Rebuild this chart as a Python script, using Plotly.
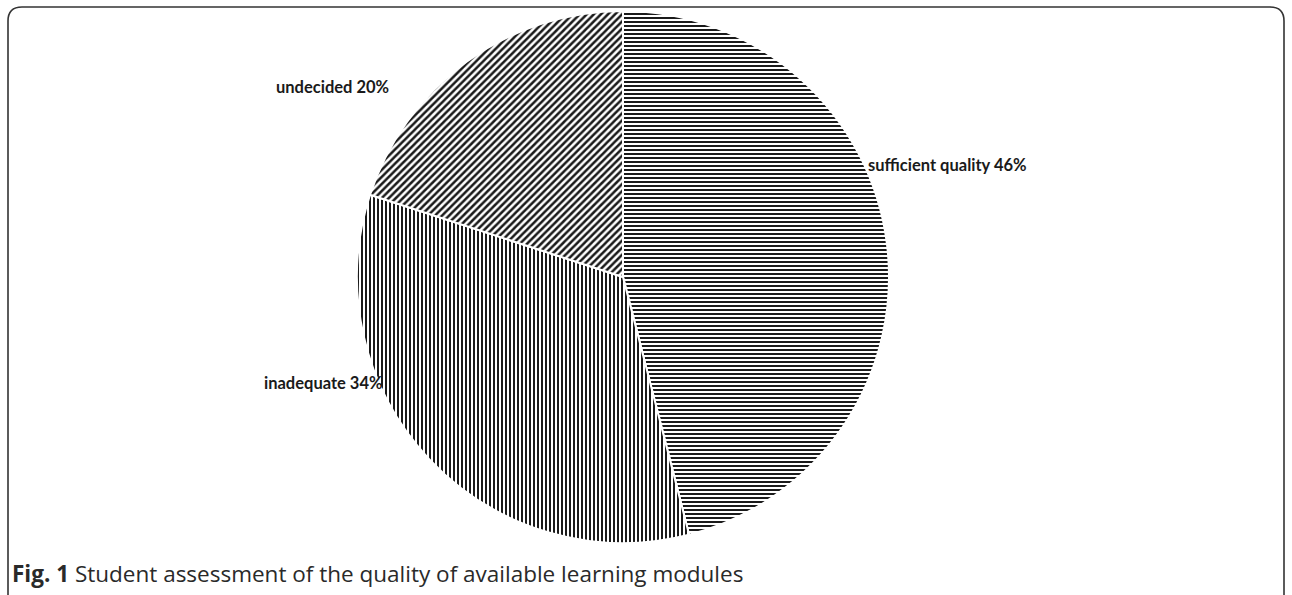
import plotly.graph_objects as go

W, H = 1292, 595

categories = ["sufficient quality", "inadequate", "undecided"]
values = [46, 34, 20]
patterns = ["-", "|", "/"]
caption_bold = "Fig. 1"
caption_text = "Student assessment of the quality of available learning modules"

# label anchor pixel positions (layout only)
label_pos = {
    "sufficient quality": (866, 165, "left"),
    "inadequate": (385, 383, "right"),
    "undecided": (391, 87, "right"),
}

def px(x):
    return x / W

def py(y):
    return 1 - y / H

cx, cy, r = 623, 277, 266

fig = go.Figure()
fig.add_trace(go.Pie(
    labels=categories,
    values=values,
    sort=False,
    direction="clockwise",
    rotation=0,
    textinfo="none",
    hoverinfo="label+percent",
    showlegend=False,
    domain=dict(x=[px(cx - r), px(cx + r)], y=[py(cy + r), py(cy - r)]),
    marker=dict(
        colors=["white"] * len(values),
        line=dict(color="white", width=2),
        pattern=dict(
            shape=patterns,
            fgcolor="#1a1a1a",
            bgcolor="white",
            size=[4, 4, 5],
            solidity=0.5,
            fillmode="replace",
        ),
    ),
))

total = sum(values)
for cat, v in zip(categories, values):
    x, y, anchor = label_pos[cat]
    fig.add_annotation(
        x=px(x), y=py(y), xref="paper", yref="paper",
        text=f"{cat} {round(100 * v / total)}%",
        showarrow=False, xanchor=anchor, yanchor="middle",
        font=dict(family="Lato", size=16.5, color="#1a1a1a", weight="bold"),
    )

fig.add_annotation(
    x=px(10), y=py(573), xref="paper", yref="paper",
    text=f"<b>{caption_bold}</b> {caption_text}",
    showarrow=False, xanchor="left", yanchor="middle",
    font=dict(family="Open Sans", size=22.5, color="#2a2a2a"),
)

# rounded border (open at bottom)
x0, x1, yt, rad = 8, 1284, 7, 14
path = (
    f"M {px(x0)},{py(H + 5)} L {px(x0)},{py(yt + rad)} "
    f"Q {px(x0)},{py(yt)} {px(x0 + rad)},{py(yt)} "
    f"L {px(x1 - rad)},{py(yt)} "
    f"Q {px(x1)},{py(yt)} {px(x1)},{py(yt + rad)} "
    f"L {px(x1)},{py(H + 5)}"
)
fig.add_shape(type="path", path=path, xref="paper", yref="paper",
              line=dict(color="#333333", width=1.6))

fig.update_layout(
    width=W, height=H,
    margin=dict(l=0, r=0, t=0, b=0),
    paper_bgcolor="white", plot_bgcolor="white",
)

fig.write_html(
    "out.html",
    config={"displayModeBar": False},
    post_script="document.body.style.margin='0';document.body.style.overflow='hidden';",
)
